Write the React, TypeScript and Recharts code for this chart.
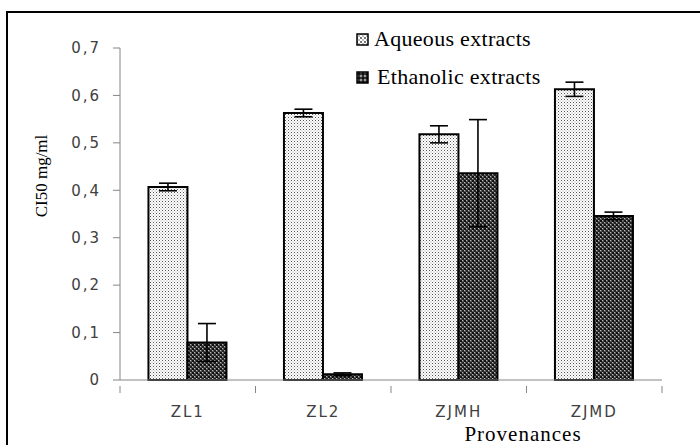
import React from 'react';
import { BarChart, Bar, XAxis, YAxis, ErrorBar, Legend } from 'recharts';

const categories = ['ZL1', 'ZL2', 'ZJMH', 'ZJMD'];
const aqueous = [0.407, 0.563, 0.518, 0.613];
const aqueousErr = [0.008, 0.008, 0.018, 0.015];
const ethanolic = [0.079, 0.012, 0.436, 0.346];
const ethanolicErr = [0.040, 0.003, 0.113, 0.008];
const yTicks = [0, 0.1, 0.2, 0.3, 0.4, 0.5, 0.6, 0.7];

const data = categories.map((c, i) => ({
  name: c,
  aq: aqueous[i],
  aqErr: aqueousErr[i],
  et: ethanolic[i],
  etErr: ethanolicErr[i],
}));

const serif = '"Liberation Serif", "Times New Roman", serif';
const sans = '"DejaVu Sans", Verdana, sans-serif';
const axisGray = '#868686';

const Swatch = ({ id }: { id: string }) => (
  <svg width={13} height={13} style={{ marginRight: 5, verticalAlign: 'baseline' }}>
    <defs>
      <pattern id={id + '-lg'} width={4} height={4} patternUnits="userSpaceOnUse">
        <rect width={4} height={4} fill={id === 'aq' ? '#ffffff' : '#333333'} />
        <rect x={0} y={0} width={2} height={2} fill={id === 'aq' ? '#777777' : '#999999'} />
        <rect x={2} y={2} width={2} height={2} fill={id === 'aq' ? '#bbbbbb' : '#111111'} />
      </pattern>
    </defs>
    <rect x={1} y={1} width={11} height={11} fill={`url(#${id}-lg)`} stroke="#000" strokeWidth={1.5} />
  </svg>
);

const renderLegend = () => (
  <div style={{ fontFamily: serif, fontSize: 22, color: '#000', lineHeight: '38px', letterSpacing: 0.3 }}>
    <div><Swatch id="aq" />Aqueous extracts</div>
    <div><Swatch id="et" /><span style={{ marginLeft: 3 }}>Ethanolic extracts</span></div>
  </div>
);

const CatTick = (props: any) => {
  const { x, y, payload, index, width, visibleTicksCount } = props;
  const half = width / visibleTicksCount / 2;
  const axisY = y - 21;
  return (
    <g>
      <line x1={x - half} x2={x - half} y1={axisY} y2={axisY + 7} stroke={axisGray} strokeWidth={1} />
      {index === visibleTicksCount - 1 && (
        <line x1={x + half} x2={x + half} y1={axisY} y2={axisY + 7} stroke={axisGray} strokeWidth={1} />
      )}
      <text x={x} y={y} dy={10} textAnchor="middle" fontFamily={sans} fontSize={15} fill="#404040" letterSpacing={2}>
        {payload.value}
      </text>
    </g>
  );
};

export default function App() {
  return (
    <div style={{ position: 'absolute', left: 0, top: 0, width: 700, height: 445, background: '#fff', overflow: 'hidden' }}>
      <div style={{ position: 'absolute', left: 6, top: 11, width: 720, height: 460, borderLeft: '2px solid #000', borderTop: '2px solid #000' }} />
      <div style={{ position: 'absolute', left: 0, top: 0 }}>
        <BarChart
          width={700}
          height={445}
          data={data}
          margin={{ top: 48, right: 38, left: 60, bottom: 10 }}
          barCategoryGap="21%"
          barGap={0}
        >
          <defs>
            <pattern id="aqPat" width={3} height={3} patternUnits="userSpaceOnUse">
              <rect width={3} height={3} fill="#ffffff" />
              <rect x={0} y={0} width={1} height={1} fill="#555555" />
              <rect x={1.5} y={1.5} width={1} height={1} fill="#999999" />
            </pattern>
            <pattern id="etPat" width={4} height={4} patternUnits="userSpaceOnUse">
              <rect width={4} height={4} fill="#555555" />
              <rect x={0} y={0} width={2} height={2} fill="#111111" />
              <rect x={2} y={2} width={2} height={2} fill="#222222" />
              <rect x={2} y={0} width={1} height={1} fill="#bbbbbb" />
              <rect x={0} y={2} width={1} height={1} fill="#bbbbbb" />
            </pattern>
          </defs>
          <XAxis
            dataKey="name"
            height={55}
            tickLine={false}
            tickMargin={21}
            axisLine={{ stroke: axisGray, strokeWidth: 1 }}
            tick={<CatTick />}
            label={{ value: 'Provenances', position: 'insideBottom', dx: 132, offset: -6, style: { fontFamily: serif, fontSize: 21, fill: '#000', letterSpacing: 1 } }}
          />
          <YAxis
            domain={[0, 0.7]}
            ticks={yTicks}
            width={60}
            tickSize={7}
            tickMargin={12}
            axisLine={{ stroke: axisGray, strokeWidth: 1 }}
            tickLine={{ stroke: axisGray, strokeWidth: 1 }}
            tickFormatter={(v: number) => (v === 0 ? '0' : v.toFixed(1).replace('.', ','))}
            tick={{ fontFamily: sans, fontSize: 15, fill: '#404040', letterSpacing: 2 }}
            label={{ value: 'CI50 mg/ml', angle: -90, position: 'insideLeft', dx: -24, dy: -38, style: { fontFamily: serif, fontSize: 17, fill: '#000', textAnchor: 'middle' } }}
          />
          <Legend
            layout="vertical"
            align="center"
            verticalAlign="middle"
            content={renderLegend}
            wrapperStyle={{ left: 356, top: 20, width: 260 }}
          />
          <Bar dataKey="aq" name="Aqueous extracts" fill="url(#aqPat)" stroke="#000" strokeWidth={2} isAnimationActive={false}>
            <ErrorBar dataKey="aqErr" width={9} stroke="#000" strokeWidth={1.6} direction="y" />
          </Bar>
          <Bar dataKey="et" name="Ethanolic extracts" fill="url(#etPat)" stroke="#000" strokeWidth={2} isAnimationActive={false}>
            <ErrorBar dataKey="etErr" width={9} stroke="#000" strokeWidth={1.6} direction="y" />
          </Bar>
        </BarChart>
      </div>
    </div>
  );
}
